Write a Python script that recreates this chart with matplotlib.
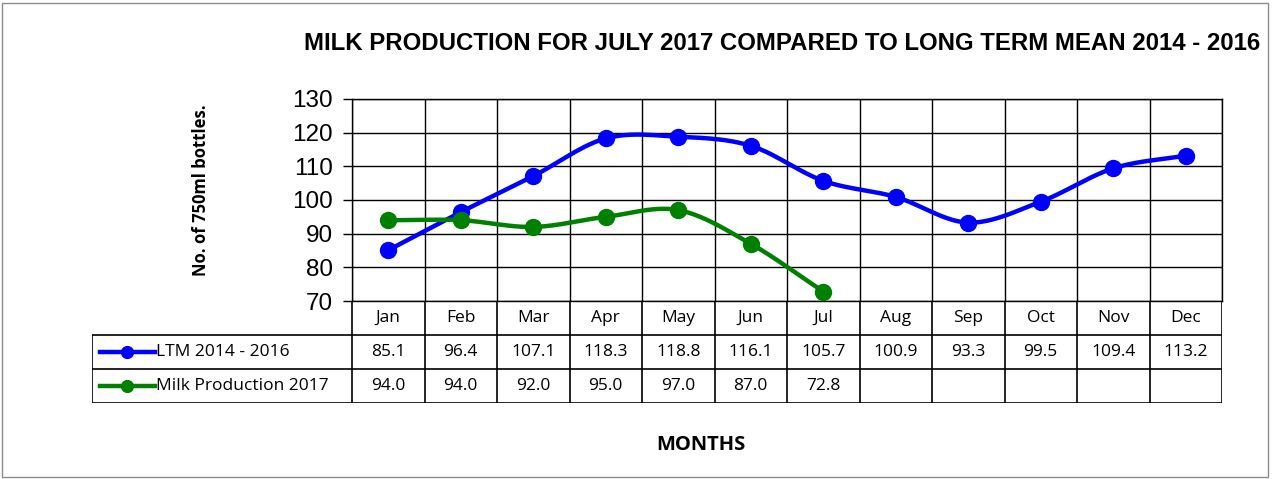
import matplotlib.pyplot as plt
from matplotlib.lines import Line2D
from matplotlib.patches import Rectangle
import numpy as np

# data
months = ['Jan', 'Feb', 'Mar', 'Apr', 'May', 'Jun', 'Jul', 'Aug', 'Sep', 'Oct', 'Nov', 'Dec']
ltm = [85.1, 96.4, 107.1, 118.3, 118.8, 116.1, 105.7, 100.9, 93.3, 99.5, 109.4, 113.2]
milk_2017 = [94.0, 94.0, 92.0, 95.0, 97.0, 87.0, 72.8]
yticks = [70, 80, 90, 100, 110, 120, 130]

BLUE = '#0000FF'
GREEN = '#008000'
TXT = ['Open Sans', 'DejaVu Sans']
ARIAL = ['Liberation Sans', 'DejaVu Sans']


# smooth curve through the points (like Excel "smoothed line")
def smooth(xs, ys, n=24):
    xs = np.asarray(xs, float)
    ys = np.asarray(ys, float)
    px = np.concatenate([[2 * xs[0] - xs[1]], xs, [2 * xs[-1] - xs[-2]]])
    py = np.concatenate([[2 * ys[0] - ys[1]], ys, [2 * ys[-1] - ys[-2]]])
    ox, oy = [], []
    t = np.linspace(0, 1, n)
    for i in range(1, len(px) - 2):
        p0, p1, p2, p3 = py[i - 1], py[i], py[i + 1], py[i + 2]
        q0, q1, q2, q3 = px[i - 1], px[i], px[i + 1], px[i + 2]
        # cubic bezier with catmull-rom control points
        c1y = p1 + (p2 - p0) / 6
        c2y = p2 - (p3 - p1) / 6
        c1x = q1 + (q2 - q0) / 6
        c2x = q2 - (q3 - q1) / 6
        bx = (1 - t) ** 3 * q1 + 3 * (1 - t) ** 2 * t * c1x + 3 * (1 - t) * t ** 2 * c2x + t ** 3 * q2
        by = (1 - t) ** 3 * p1 + 3 * (1 - t) ** 2 * t * c1y + 3 * (1 - t) * t ** 2 * c2y + t ** 3 * p2
        ox.extend(bx)
        oy.extend(by)
    return ox, oy


W, H = 1272, 479
fig = plt.figure(figsize=(W / 100, H / 100), dpi=100)

# outer border
fig.patches.append(Rectangle((2 / W, 2 / H), 1266 / W, 474 / H, transform=fig.transFigure,
                             fill=False, edgecolor='#8c8c8c', linewidth=1))

# main plot area
ax = fig.add_axes([352 / W, (H - 301) / H, 870 / W, 202 / H])
x = np.arange(len(months))
sx, sy = smooth(x, ltm)
ax.plot(sx, sy, color=BLUE, lw=3.2, zorder=3)
ax.plot(x, ltm, 'o', color=BLUE, ms=11.5, zorder=4)
gx, gy = smooth(x[:len(milk_2017)], milk_2017)
ax.plot(gx, gy, color=GREEN, lw=3.2, zorder=3)
ax.plot(x[:len(milk_2017)], milk_2017, 'o', color=GREEN, ms=11.5, zorder=4)

ax.set_xlim(-0.5, 11.5)
ax.set_ylim(70, 130)
ax.set_yticks(yticks)
ax.set_yticklabels([str(v) for v in yticks], fontsize=17.5, family=ARIAL)
ax.set_xticks(np.arange(-0.5, 12, 1))
ax.set_xticklabels([])
ax.tick_params(axis='x', length=0)
ax.tick_params(axis='y', length=6.5, width=1, direction='out', pad=7)
ax.grid(True, color='black', lw=1)
for s in ax.spines.values():
    s.set_color('black')
    s.set_linewidth(1)
ax.set_axisbelow(True)

# data table under the plot
leg_w = 260 / 72.5
tb = fig.add_axes([92 / W, (H - 403) / H, 1130 / W, 102 / H])
tb.set_xlim(-0.5 - leg_w, 11.5)
tb.set_ylim(0, 3)
tb.axis('off')
lk = dict(color='black', lw=1.2, solid_capstyle='butt')
for k in range(13):
    tb.plot([k - 0.5, k - 0.5], [0, 3], **lk)
tb.plot([-0.5 - leg_w, -0.5 - leg_w], [0, 2], **lk)
for yy in (0, 1, 2):
    tb.plot([-0.5 - leg_w, 11.5], [yy, yy], **lk)

for i, m in enumerate(months):
    tb.text(i, 2.5, m, ha='center', va='center', fontsize=12.5, family=TXT)
    tb.text(i, 1.5, f'{ltm[i]:.1f}', ha='center', va='center', fontsize=12.5, family=TXT)
for i, v in enumerate(milk_2017):
    tb.text(i, 0.5, f'{v:.1f}', ha='center', va='center', fontsize=12.5, family=TXT)

x0 = -0.5 - leg_w
for yy, col, name in [(1.5, BLUE, 'LTM 2014 - 2016'), (0.5, GREEN, 'Milk Production 2017')]:
    tb.add_line(Line2D([x0 + 8 / 72.5, x0 + 63 / 72.5], [yy, yy], color=col, lw=3.2))
    tb.plot([x0 + 35 / 72.5], [yy], 'o', color=col, ms=8.5)
    tb.text(x0 + 64 / 72.5, yy, name, ha='left', va='center', fontsize=12.5, family=TXT)

fig.text(782 / W, 1 - 44 / H, 'MILK PRODUCTION FOR JULY 2017 COMPARED TO LONG TERM MEAN 2014 - 2016',
         ha='center', va='center', fontsize=17.3, fontweight='bold', family=ARIAL)
fig.text(201 / W, 1 - 190 / H, 'No. of 750ml bottles.', rotation=90, ha='center', va='center',
         fontsize=12, fontweight='bold', family=TXT)
fig.text(701 / W, 1 - 445 / H, 'MONTHS', ha='center', va='center', fontsize=14.5, fontweight='bold', family=TXT)

fig.savefig('out.png', dpi=100)
